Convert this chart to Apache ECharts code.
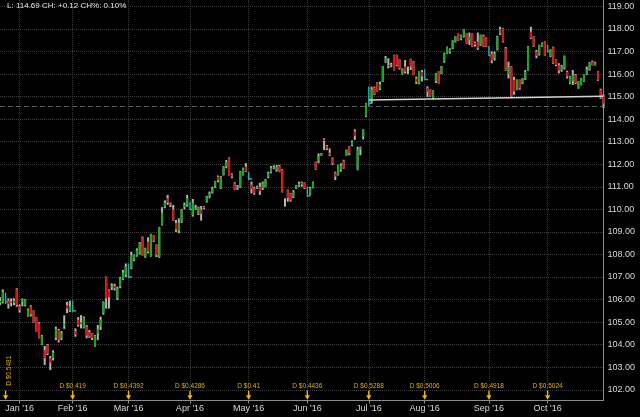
<!DOCTYPE html>
<html>
<head>
<meta charset="utf-8">
<script src="https://cdn.jsdelivr.net/npm/echarts@6/dist/echarts.min.js"></script>
<style>
html,body{margin:0;padding:0;background:#000;}
#chart{width:640px;height:417px;}
</style>
</head>
<body>
<div id="chart"></div>
<script>
// ---- categories: trading days per month ----
const months = ['2015-12','2016-01','2016-02','2016-03','2016-04','2016-05','2016-06','2016-07','2016-08','2016-09','2016-10'];
const monthDays = [
  [22,23,24,28,29,30,31],
  [4,5,6,7,8,11,12,13,14,15,19,20,21,22,25,26,27,28,29],
  [1,2,3,4,5,8,9,10,11,12,16,17,18,19,22,23,24,25,26,29],
  [1,2,3,4,7,8,9,10,11,14,15,16,17,18,21,22,23,24,28,29,30,31],
  [1,4,5,6,7,8,11,12,13,14,15,18,19,20,21,22,25,26,27,28,29],
  [2,3,4,5,6,9,10,11,12,13,16,17,18,19,20,23,24,25,26,27,31],
  [1,2,3,6,7,8,9,10,13,14,15,16,17,20,21,22,23,24,27,28,29,30],
  [1,5,6,7,8,11,12,13,14,15,18,19,20,21,22,25,26,27,28,29],
  [1,2,3,4,5,8,9,10,11,12,15,16,17,18,19,22,23,24,25,26,29,30,31],
  [1,2,6,7,8,9,12,13,14,15,16,19,20,21,22,23,26,27,28,29,30],
  [3,4,5,6,7,10,11,12,13,14,17,18,19,20,21,24,25,26,27,28,31]
];
const monthNames = ['Jan','Feb','Mar','Apr','May','Jun','Jul','Aug','Sep','Oct','Nov','Dec'];

// ---- OHLC values ----
const opens = [
105.85,105.9,106.2,105.95,105.9,105.85,106.45,105.7,105.9,105.75,
105.25,105.7,105.5,105.2,104.95,104.0,103.75,104.0,103.4,103.4,
104.3,104.65,104.3,104.85,105.75,105.5,105.8,104.6,105.1,104.9,
104.75,104.8,104.55,104.5,103.95,104.5,104.8,105.4,107.0,106.4,
106.55,106.6,106.05,106.57,106.9,107.1,107.35,107.4,107.76,107.95,
108.05,108.76,107.9,108.57,107.93,108.82,108.42,107.9,109.3,110.1,
110.5,110.25,110.0,109.4,109.05,109.45,110.1,110.2,110.3,109.75,
110.0,109.8,110.0,110.12,110.34,110.55,110.75,111.0,111.45,110.93,
111.52,111.9,112.26,111.55,111.15,110.95,111.0,111.52,111.89,111.6,
111.1,110.93,110.93,111.0,110.95,111.0,111.45,111.65,111.82,111.75,
111.92,111.75,110.38,110.86,110.71,110.56,110.93,111.05,111.18,111.18,
110.95,110.71,110.95,112.1,112.15,112.41,113.1,112.8,112.51,112.26,
111.62,111.52,111.75,112.16,112.41,112.78,112.85,113.45,111.75,112.66,
113.22,114.14,115.1,114.8,115.4,115.62,115.35,115.66,116.55,116.35,
116.38,116.84,116.84,116.65,115.99,116.33,116.2,116.66,116.55,115.8,
115.59,116.1,116.1,115.37,115.3,114.93,115.67,116.1,116.04,116.55,
116.92,116.95,117.14,117.44,117.78,117.55,117.66,117.78,117.5,117.78,
117.4,117.44,117.29,117.7,117.59,117.2,116.9,116.7,117.1,117.8,
118.03,117.14,116.0,116.33,115.74,115.3,115.74,115.6,115.8,116.18,
117.88,117.66,117.0,116.85,117.22,117.44,117.25,116.8,117.19,116.63,
116.4,116.18,116.26,116.1,115.59,115.7,115.96,115.37,115.52,115.67,
116.0,116.18,116.55,116.4,116.1,115.3,115.05
];
const closes = [
105.95,106.35,105.9,105.8,105.85,105.95,105.75,105.55,106.0,106.0,
105.55,105.35,105.0,104.6,104.3,104.4,103.4,103.6,103.2,103.65,
104.7,104.2,104.5,104.92,105.6,105.7,105.5,104.45,104.87,105.0,
105.2,104.4,104.35,104.3,104.4,104.7,105.1,105.9,106.05,106.1,
106.6,106.5,106.5,106.94,107.2,107.45,107.0,107.98,107.98,108.2,
108.5,107.98,108.27,108.12,108.9,108.6,107.98,109.2,109.85,110.3,
110.3,110.2,109.53,109.1,109.4,110.0,110.2,110.5,110.0,110.3,
110.05,110.1,109.8,110.05,110.56,110.7,110.9,111.23,111.28,111.45,
111.89,112.1,111.52,111.45,110.86,111.0,111.67,111.82,111.67,111.35,
110.9,110.71,111.0,110.8,111.15,111.33,111.6,111.85,111.87,111.9,
111.67,110.78,110.38,110.5,110.4,110.78,111.05,111.15,111.1,110.93,
110.6,110.93,111.2,111.78,112.35,112.48,113.03,112.7,112.41,112.04,
111.45,111.97,111.95,111.82,112.63,112.48,113.0,113.25,112.66,112.73,
113.52,114.7,114.7,115.3,115.1,115.25,115.55,116.33,116.7,116.4,
116.42,116.18,116.4,116.25,116.21,116.11,116.2,116.33,115.96,115.65,
116.11,115.9,115.76,115.22,115.03,115.26,116.03,115.6,116.33,116.92,
117.2,117.1,117.48,117.66,117.51,117.73,117.99,117.37,117.66,117.22,
117.3,117.14,117.73,117.22,117.22,116.82,116.6,116.9,117.66,118.0,
117.44,116.18,116.3,115.0,115.22,115.74,115.37,115.8,116.1,117.22,
117.59,117.22,116.8,117.29,117.37,116.85,117.0,117.07,116.48,116.4,
116.15,116.33,116.8,115.89,115.89,115.95,115.59,115.66,115.81,115.96,
116.2,116.51,116.4,116.5,115.74,114.95,114.69
];
const lows = [
105.76,105.83,105.8,105.6,105.7,105.75,105.68,105.42,105.7,105.7,
105.24,105.25,104.98,104.58,104.28,103.98,103.1,103.54,102.87,103.3,
104.2,104.1,104.2,104.7,105.4,105.45,105.45,104.35,104.8,104.72,
104.72,104.28,104.3,104.2,103.91,104.2,104.65,105.33,105.6,105.6,
106.42,106.4,105.98,106.5,106.87,107.0,106.94,107.35,107.7,107.9,
108.0,107.95,107.85,108.05,107.9,108.55,107.88,107.85,109.28,110.05,
110.2,110.1,109.5,109.0,108.94,109.4,110.0,110.12,109.97,109.68,
109.97,109.75,109.5,110.0,110.3,110.49,110.7,110.95,111.2,110.9,
111.5,111.82,111.5,111.38,110.85,110.86,110.95,111.5,111.65,111.3,
110.71,110.65,110.9,110.64,110.86,110.98,111.38,111.6,111.78,111.67,
111.65,110.75,110.12,110.34,110.34,110.5,110.9,111.0,111.0,110.9,
110.56,110.65,110.93,111.75,112.04,112.38,112.63,112.63,112.37,111.97,
111.3,111.5,111.67,111.8,112.38,112.4,112.8,113.08,111.73,112.4,
113.1,114.1,114.55,114.7,115.07,115.22,115.29,115.65,116.5,116.25,
116.3,116.16,116.35,116.2,115.98,116.03,116.0,116.18,115.95,115.56,
115.55,115.67,115.74,114.99,115.0,114.9,115.6,115.58,116.0,116.5,
116.9,116.9,117.1,117.4,117.48,117.5,117.62,117.35,117.29,117.2,
117.22,117.07,117.25,117.2,117.2,116.8,116.48,116.6,117.05,117.73,
117.4,116.15,115.8,114.98,115.08,115.28,115.3,115.55,115.74,116.15,
117.55,117.2,116.7,116.82,117.2,116.82,116.98,116.75,116.45,116.35,
116.03,116.1,116.2,115.8,115.55,115.52,115.55,115.35,115.5,115.65,
115.96,116.15,116.38,116.38,115.7,114.9,114.48
];
const highs = [
106.1,106.45,106.3,106.05,106.05,106.05,106.5,105.78,106.05,106.02,
105.6,105.75,105.52,105.22,105.0,104.43,103.94,104.03,103.5,103.75,
104.8,104.7,104.6,105.3,105.9,105.95,105.95,104.72,105.22,105.31,
105.25,104.87,104.65,104.52,104.43,104.87,105.24,105.92,107.02,106.45,
106.72,106.7,106.57,107.0,107.31,107.6,107.6,108.12,108.0,108.27,
108.55,108.8,108.3,108.76,108.92,108.85,108.45,109.22,110.1,110.4,
110.64,110.3,110.2,109.53,109.6,110.02,110.3,110.64,110.34,110.46,
110.2,110.12,110.15,110.15,110.6,110.79,111.0,111.25,111.5,111.48,
111.92,112.19,112.3,111.6,111.2,111.08,111.7,111.85,112.05,111.67,
111.23,111.0,111.05,111.18,111.23,111.35,111.67,111.92,111.95,111.97,
111.97,111.78,110.49,110.88,110.73,110.85,111.08,111.23,111.23,111.2,
111.0,111.0,111.23,112.12,112.48,112.5,113.15,112.85,112.7,112.3,
111.67,111.98,112.04,112.2,112.65,112.8,113.05,113.55,112.78,112.78,
113.55,114.72,115.45,115.44,115.44,115.64,115.66,116.35,116.8,116.7,
116.5,116.86,116.86,116.66,116.25,116.62,116.33,116.68,116.58,115.89,
116.12,116.18,116.21,115.45,115.32,115.28,116.05,116.12,116.36,116.95,
117.22,117.14,117.5,117.68,117.8,117.75,118.0,117.8,117.84,117.8,
117.44,117.84,117.75,117.75,117.62,117.25,117.0,117.0,117.7,118.1,
118.05,117.2,116.55,116.35,115.88,115.76,115.76,115.82,116.18,117.24,
118.1,117.68,117.07,117.3,117.4,117.46,117.3,117.1,117.22,116.65,
116.48,116.4,116.82,116.15,115.92,116.18,116.0,115.68,115.83,115.98,
116.33,116.53,116.6,116.55,116.12,115.35,115.1
];

// ---- dividends ----
const dividendDates = ['2015-12-24','2016-02-01','2016-03-01','2016-04-01','2016-05-02','2016-06-01','2016-07-01','2016-08-01','2016-09-01','2016-10-03'];
const dividendAmounts = ['0.5481','0.419','0.4392','0.4286','0.41','0.4436','0.5288','0.5006','0.4918','0.5024'];

// ---- trend line, previous close, header ----
const trendDates = ['2016-07-01','2016-10-31'];
const trendValues = [114.85, 115.01];
const previousClose = 114.57;
const headerText = 'L: 114.69 CH: +0.12 CH%: 0.10%';

// ---- y axis ticks ----
const yMin = 102, yMax = 119, yStep = 1;

// ---- build ----
const dates = [];
months.forEach((m, k) => monthDays[k].forEach(d => dates.push(m + '-' + String(d).padStart(2, '0'))));
const isMonthStart = (i) => i > 0 && dates[i].slice(0, 7) !== dates[i - 1].slice(0, 7);
const divIndex = dividendDates.map(d => dates.indexOf(d));
const divSet = new Set(divIndex);
const candleData = opens.map((o, i) => [i, o, closes[i], lows[i], highs[i]]);

const GREEN = '#16a816', RED = '#dc1010', YELLOW = '#e8d000', WICK = '#b4b4b4', TEAL = '#22aaaa';
const FONT = '"Liberation Sans", Arial, sans-serif';

function renderCandle(params, api) {
  const i = api.value(0), o = api.value(1), c = api.value(2), l = api.value(3), h = api.value(4);
  const pH = api.coord([i, h]), pL = api.coord([i, l]), pO = api.coord([i, o]), pC = api.coord([i, c]);
  const x = pH[0];
  if (divSet.has(i)) {
    return { type: 'group', children: [
      { type: 'line', shape: { x1: x, y1: pH[1], x2: x, y2: pL[1] }, style: { stroke: TEAL, lineWidth: 1.5 } },
      { type: 'line', shape: { x1: x, y1: pC[1], x2: x + 3.5, y2: pC[1] }, style: { stroke: TEAL, lineWidth: 1.5 } }
    ]};
  }
  const bw = 2;
  const color = c > o ? GREEN : (c < o ? RED : YELLOW);
  const top = Math.min(pO[1], pC[1]);
  const hgt = Math.max(1.2, Math.abs(pO[1] - pC[1]));
  return { type: 'group', children: [
    { type: 'rect', shape: { x: x - bw / 2, y: pH[1], width: bw, height: pL[1] - pH[1] }, style: { fill: WICK } },
    { type: 'rect', shape: { x: x - bw / 2, y: top, width: bw, height: hgt }, style: { fill: color } }
  ]};
}

function renderDividend(params, api) {
  const i = api.value(0);
  const p = api.coord([i, yMin]);
  const x = p[0], yb = p[1];
  const label = 'D $' + dividendAmounts[params.dataIndex];
  const arrow = { type: 'polygon', shape: { points: [
      [x - 0.7, yb + 1], [x + 0.7, yb + 1], [x + 0.7, yb + 5.5], [x + 2.6, yb + 5.5],
      [x, yb + 10], [x - 2.6, yb + 5.5], [x - 0.7, yb + 5.5]] },
    style: { fill: '#f5b800' } };
  const rotated = x < 20;
  const tstyle = { text: label, fill: '#e0ae00', font: '6.5px ' + FONT, align: 'center', verticalAlign: 'middle', textAlign: 'center', textVerticalAlign: 'middle' };
  const text = rotated
    ? { type: 'text', x: x + 4, y: yb - 19, rotation: Math.PI / 2, style: tstyle }
    : { type: 'text', x: x, y: yb - 4, style: tstyle };
  return { type: 'group', children: [arrow, text] };
}

const chart = echarts.init(document.getElementById('chart'), null, { renderer: 'canvas' });
chart.setOption({
  backgroundColor: '#000',
  animation: false,
  title: {
    text: headerText, left: 7, top: 2, padding: 0,
    textStyle: { color: '#e6e6e6', fontSize: 8, fontWeight: 'normal', fontFamily: FONT }
  },
  grid: [
    { left: 0, right: 36.5, top: 6.4, bottom: 27.25, outerBoundsMode: 'none' },
    { left: 0, right: 36.5, top: 0, bottom: 16.5, outerBoundsMode: 'none' }
  ],
  xAxis: [
    { type: 'category', gridIndex: 0, data: dates, boundaryGap: false, show: false },
    {
      type: 'category', gridIndex: 1, data: dates, boundaryGap: false,
      axisLine: { show: true, lineStyle: { color: '#8c8c8c', width: 1 } },
      axisTick: { show: true, interval: (idx) => isMonthStart(idx), length: 3, lineStyle: { color: '#8c8c8c' } },
      axisLabel: {
        interval: (idx) => isMonthStart(idx), color: '#d8d8d8', fontSize: 9, fontFamily: FONT, margin: 4,
        formatter: (v) => monthNames[+v.slice(5, 7) - 1] + " '" + v.slice(2, 4)
      },
      splitLine: { show: true, interval: (idx) => isMonthStart(idx), lineStyle: { color: '#3c3c3c', type: 'dotted', width: 1 } }
    }
  ],
  yAxis: [
    {
      type: 'value', gridIndex: 0, position: 'right', min: yMin, max: yMax, interval: yStep,
      axisLine: { show: false }, axisTick: { show: false },
      axisLabel: { color: '#d8d8d8', fontSize: 9, fontFamily: FONT, margin: 4, formatter: (v) => v.toFixed(2) },
      splitLine: { show: true, lineStyle: { color: '#3c3c3c', type: 'dotted', width: 1 } }
    },
    {
      type: 'value', gridIndex: 1, position: 'right', min: 0, max: 1,
      axisLine: { show: true, lineStyle: { color: '#8c8c8c', width: 1 } },
      axisTick: { show: false }, axisLabel: { show: false }, splitLine: { show: false }
    }
  ],
  series: [
    {
      type: 'custom', name: 'price', xAxisIndex: 0, yAxisIndex: 0,
      data: candleData, encode: { x: 0, y: [1, 2, 3, 4] },
      renderItem: renderCandle, z: 3,
      markLine: {
        silent: true, symbol: ['none', 'none'], label: { show: false },
        lineStyle: { color: '#5c5c5c', type: [5, 3], width: 1 },
        data: [{ yAxis: previousClose }]
      }
    },
    {
      type: 'line', name: 'trend', xAxisIndex: 0, yAxisIndex: 0,
      data: trendDates.map((d, k) => [dates.indexOf(d), trendValues[k]]),
      symbol: 'none', lineStyle: { color: '#d4d4d4', width: 1.5 }, z: 5, silent: true
    },
    {
      type: 'custom', name: 'dividends', xAxisIndex: 0, yAxisIndex: 0,
      data: divIndex.map((i, k) => [i, k]), encode: { x: 0, y: 1 },
      renderItem: renderDividend, z: 6, silent: true
    }
  ]
});
</script>
</body>
</html>
